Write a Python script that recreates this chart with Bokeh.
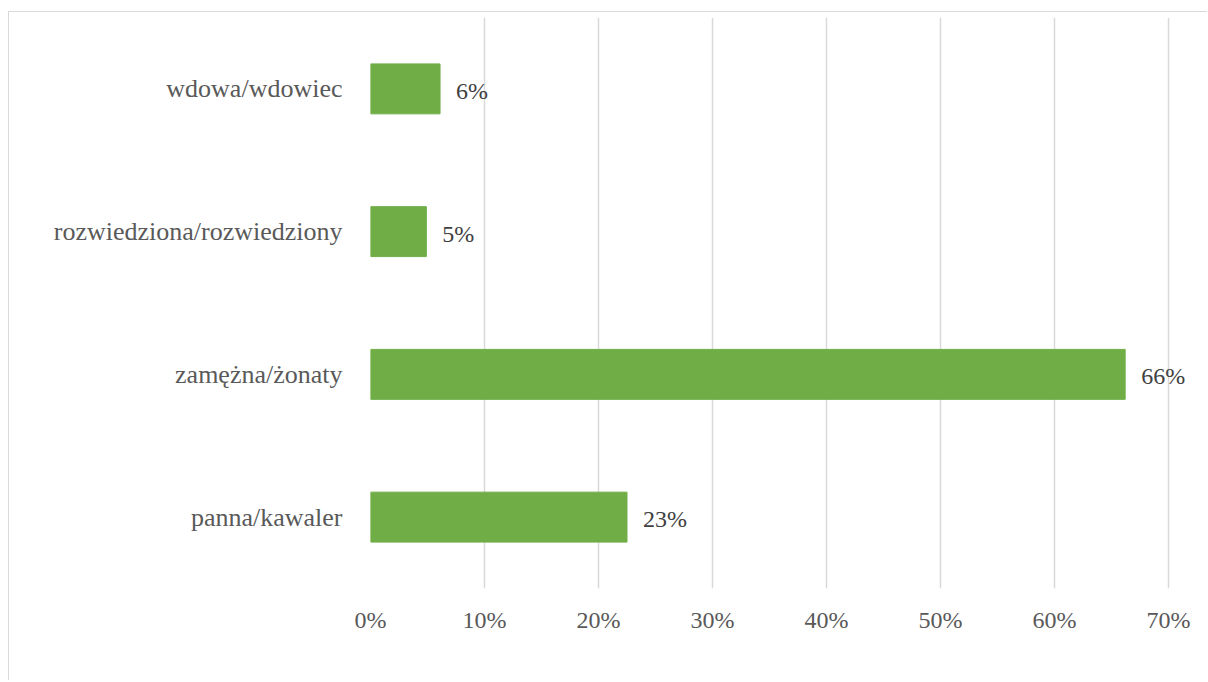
from bokeh.plotting import figure
from bokeh.models import ColumnDataSource, FixedTicker, CustomJSTickFormatter
from bokeh.core.properties import value
from bokeh.embed import file_html
from bokeh.resources import INLINE

categories = ["panna/kawaler", "zamężna/żonaty", "rozwiedziona/rozwiedziony", "wdowa/wdowiec"]
values = [0.225, 0.662, 0.049, 0.061]
labels = ["23%", "66%", "5%", "6%"]
ticks = [0.0, 0.1, 0.2, 0.3, 0.4, 0.5, 0.6, 0.7]

FONT = "Liberation Serif"

src = ColumnDataSource(dict(cat=categories, val=values, lab=labels))

p = figure(y_range=categories, x_range=(0, 0.7351), width=1199, height=669,
           output_backend="svg", toolbar_location=None,
           min_border_left=361, min_border_right=0, min_border_top=5, min_border_bottom=93)
p.styles = {"border-top": "1px solid #D9D9D9", "border-left": "1px solid #D9D9D9",
            "margin-top": "11px", "margin-left": "8px"}
p.y_range.range_padding = 0
p.outline_line_color = None
p.background_fill_color = "white"
p.border_fill_color = "white"

p.hbar(y="cat", right="val", left=0, height=0.35, color="#70AD47", source=src)
p.text(x="val", y="cat", text="lab", source=src, x_offset=16, y_offset=2,
       text_align="left", text_baseline="middle", text_font=value(FONT),
       text_font_size="24px", text_color="#404040")

p.xaxis.ticker = FixedTicker(ticks=ticks)
p.xaxis.formatter = CustomJSTickFormatter(code="return Math.round(tick*100) + '%';")
for ax in (p.xaxis[0], p.yaxis[0]):
    ax.axis_line_color = None
    ax.major_tick_line_color = None
    ax.minor_tick_line_color = None
    ax.major_label_text_font = FONT
    ax.major_label_text_color = "#595959"
p.xaxis.major_label_text_font_size = "24px"
p.xaxis.major_label_standoff = 12
p.yaxis.major_label_text_font_size = "26px"
p.yaxis.major_label_standoff = 22

p.xgrid.grid_line_color = "#D9D9D9"
p.xgrid.grid_line_width = 1.5
p.ygrid.grid_line_color = None

open("out.html", "w").write(file_html(p, INLINE))
